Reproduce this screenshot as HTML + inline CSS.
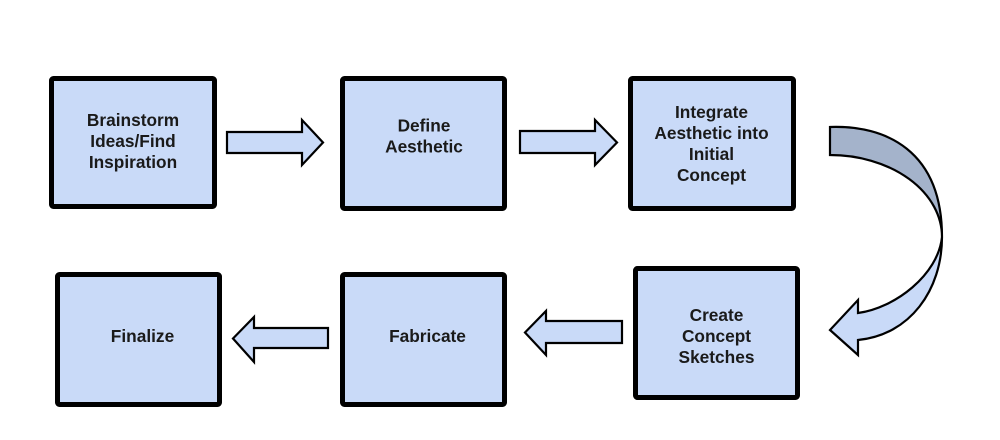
<!DOCTYPE html>
<html>
<head>
<meta charset="utf-8">
<style>
  html, body { margin: 0; padding: 0; background: #ffffff; }
  body { width: 1000px; height: 440px; overflow: hidden; }
  svg { display: block; }
  text { font-family: "Liberation Sans", Arial, sans-serif; font-weight: bold; font-size: 17.3px; fill: #1a1a1a; }
</style>
</head>
<body>
<svg width="1000" height="440" viewBox="0 0 1000 440" xmlns="http://www.w3.org/2000/svg">
  <rect x="0" y="0" width="1000" height="440" fill="#ffffff"/>

  <!-- Boxes -->
  <g fill="#c9daf8" stroke="#000" stroke-width="5" stroke-linejoin="round">
    <rect x="51.5" y="78.5" width="163" height="128" rx="2"/>
    <rect x="342.5" y="78.5" width="162" height="130" rx="2"/>
    <rect x="630.5" y="78.5" width="163" height="130" rx="2"/>
    <rect x="57.5" y="274.5" width="162" height="130" rx="2"/>
    <rect x="342.5" y="274.5" width="162" height="130" rx="2"/>
    <rect x="635.5" y="268.5" width="162" height="129" rx="2"/>
  </g>

  <!-- Block arrows -->
  <g fill="#c9daf8" stroke="#000" stroke-width="2.2" stroke-linejoin="miter">
    <path d="M227,132 L302,132 L302,120 L323,142.5 L302,165 L302,153 L227,153 Z"/>
    <path d="M520,131 L595,131 L595,120 L617,142.5 L595,165 L595,153 L520,153 Z"/>
    <path d="M622,321 L546,321 L546,311 L525,332.5 L546,355 L546,343 L622,343 Z"/>
    <path d="M328,328 L254,328 L254,317 L233,338.5 L254,362 L254,348 L328,348 Z"/>
  </g>

  <!-- Curved U-turn arrow -->
  <g stroke="#000" stroke-width="2.2" stroke-linejoin="miter">
    <path fill="#c9daf8" d="M942,237 C942,290 910,335 858,340 L858,355 L830,330 L858,300 L858,313 C895,308 938,275 942,237 Z"/>
    <path fill="#a4b3cb" d="M830,127 C885,125 942,150 942,237 A112,82 0 0 0 830,155 Z"/>
  </g>

  <!-- Labels -->
  <g text-anchor="middle">
    <text x="133" y="126">Brainstorm</text>
    <text x="133" y="147">Ideas/Find</text>
    <text x="133" y="168">Inspiration</text>

    <text x="424" y="131.5">Define</text>
    <text x="424" y="152.5">Aesthetic</text>

    <text x="711.5" y="118">Integrate</text>
    <text x="711.5" y="139">Aesthetic into</text>
    <text x="711.5" y="160">Initial</text>
    <text x="711.5" y="181">Concept</text>

    <text x="716.5" y="321">Create</text>
    <text x="716.5" y="342">Concept</text>
    <text x="716.5" y="363">Sketches</text>

    <text x="427.5" y="342">Fabricate</text>
    <text x="142.5" y="342">Finalize</text>
  </g>
</svg>
</body>
</html>
